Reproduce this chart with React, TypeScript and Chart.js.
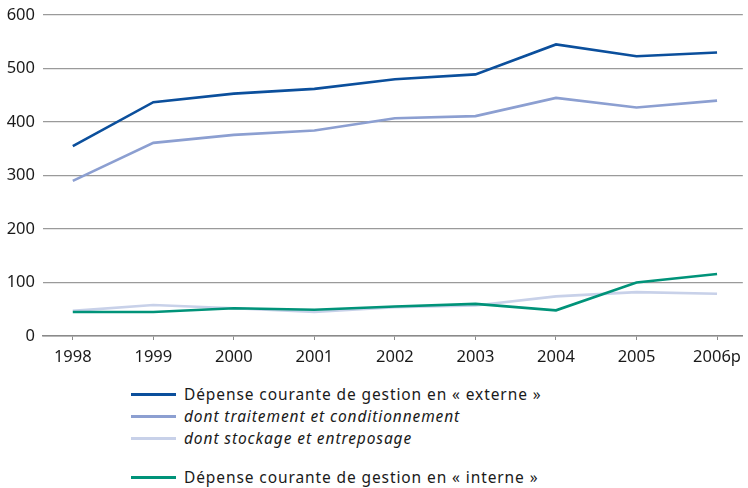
import React, { useEffect, useRef } from "react";
import { Chart, registerables } from "chart.js";

Chart.register(...registerables);

const years = ["1998", "1999", "2000", "2001", "2002", "2003", "2004", "2005", "2006p"];
const externe = [355, 437, 453, 462, 480, 489, 545, 523, 530];
const traitement = [290, 361, 376, 384, 407, 411, 445, 427, 440];
const stockage = [47, 58, 52, 45, 54, 57, 74, 82, 79];
const interne = [45, 45, 52, 49, 55, 60, 48, 100, 116];

const FONT = "'Noto Sans', 'DejaVu Sans', sans-serif";

const legendItems = [
  { label: "Dépense courante de gestion en « externe »", color: "#0b4f9c", italic: false, top: 394 },
  { label: "dont traitement et conditionnement", color: "#8c9fd1", italic: true, top: 416 },
  { label: "dont stockage et entreposage", color: "#c8d1e9", italic: true, top: 438 },
  { label: "Dépense courante de gestion en « interne »", color: "#009379", italic: false, top: 477 },
];

export default function App() {
  const ref = useRef<HTMLCanvasElement | null>(null);

  useEffect(() => {
    if (!ref.current) return;
    const toPts = (arr: number[]) => arr.map((v, i) => ({ x: i, y: v }));
    const chart = new Chart(ref.current, {
      type: "line",
      data: {
        datasets: [
          { label: legendItems[0].label, data: toPts(externe), borderColor: legendItems[0].color, borderWidth: 2.6, pointRadius: 0, order: 1 },
          { label: legendItems[1].label, data: toPts(traitement), borderColor: legendItems[1].color, borderWidth: 2.6, pointRadius: 0, order: 1 },
          { label: legendItems[2].label, data: toPts(stockage), borderColor: legendItems[2].color, borderWidth: 2.6, pointRadius: 0, order: 1 },
          { label: legendItems[3].label, data: toPts(interne), borderColor: legendItems[3].color, borderWidth: 2.6, pointRadius: 0, order: 0 },
        ],
      },
      options: {
        animation: false,
        responsive: false,
        layout: { padding: { top: 15, right: 0, left: 0, bottom: 0 } },
        plugins: { legend: { display: false }, tooltip: { enabled: false } },
        elements: { line: { tension: 0 } },
        scales: {
          x: {
            type: "linear",
            min: -0.37,
            max: 8.32,
            afterBuildTicks: (axis: any) => {
              axis.ticks = years.map((_, i) => ({ value: i }));
            },
            afterFit: (scale: any) => {
              scale.height = 34;
            },
            ticks: {
              callback: (v: any) => years[Math.round(Number(v))] ?? "",
              font: { family: FONT, size: 16.5 },
              color: "#1a1a1a",
              padding: 7,
              maxRotation: 0,
              autoSkip: false,
            },
            grid: { drawOnChartArea: false, drawTicks: true, tickLength: 4, color: "#8a8a8a", lineWidth: 1 },
            border: { display: true, color: "#8a8a8a", width: 1.5 },
          },
          y: {
            min: 0,
            max: 600,
            afterFit: (scale: any) => {
              scale.width = 43;
              scale.paddingTop = 0;
            },
            ticks: {
              stepSize: 100,
              font: { family: FONT, size: 16.5 },
              color: "#1a1a1a",
              padding: 8,
            },
            grid: { color: "#9a9a9a", lineWidth: 1.3, drawTicks: false },
            border: { display: false },
          },
        },
      },
    });
    return () => chart.destroy();
  }, []);

  return (
    <div style={{ position: "absolute", left: 0, top: 0, width: 748, height: 488, background: "#fff", fontFamily: FONT }}>
      <canvas ref={ref} width={748} height={370} style={{ position: "absolute", left: 0, top: 0 }} />
      {legendItems.map((it) => (
        <div key={it.label} style={{ position: "absolute", left: 131, top: it.top - 11, height: 22, display: "flex", alignItems: "center" }}>
          <span style={{ display: "inline-block", width: 45, height: 3, background: it.color }} />
          <span style={{ marginLeft: 8, fontSize: 15.5, letterSpacing: 0.9, fontStyle: it.italic ? "italic" : "normal", color: "#1a1a1a", whiteSpace: "nowrap" }}>
            {it.label}
          </span>
        </div>
      ))}
    </div>
  );
}
